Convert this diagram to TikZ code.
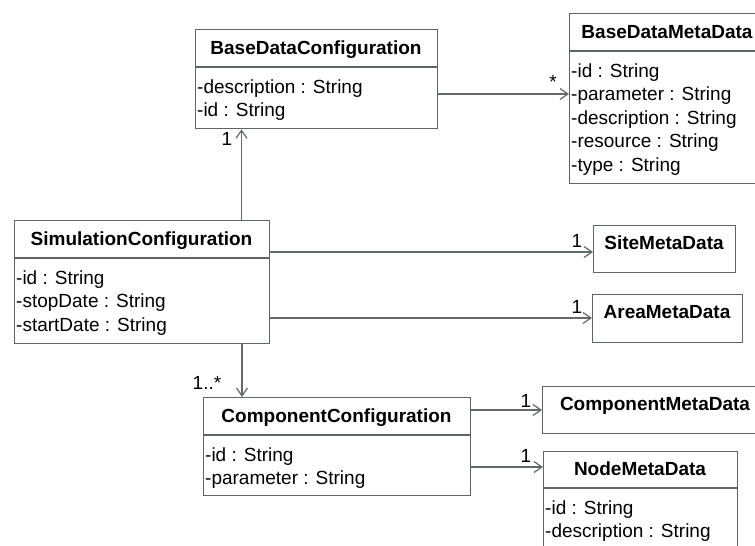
\documentclass[tikz,border=0pt]{standalone}
\usepackage{fontspec}
\setmainfont{Liberation Sans}
\usetikzlibrary{arrows.meta}

\definecolor{boxgray}{RGB}{95,100,100}
\definecolor{linegray}{RGB}{100,105,105}

\tikzset{
    every node/.style={font=\fontsize{19pt}{23.5pt}\selectfont, text=black},
    classbox/.style={draw=boxgray, line width=1.3pt, anchor=north west, inner sep=0pt},
    classname/.style={anchor=base, inner sep=0pt, font=\fontsize{19pt}{23.5pt}\selectfont\bfseries},
    attrs/.style={anchor=base west, align=left, inner sep=0pt},
    sepline/.style={draw=boxgray, line width=1.3pt},
    assoc/.style={draw=linegray, line width=1.3pt, -{Straight Barb[length=8pt,width=11pt,line width=1.2pt]}},
    mult/.style={anchor=base, inner sep=0pt}
}

\begin{document}
\begin{tikzpicture}[x=1pt, y=-1pt]
                \useasboundingbox (0,0) rectangle (755,546);
                \clip (0,0) rectangle (755,546);

                % BaseDataConfiguration
                \node [classbox, minimum width=242pt, minimum height=99pt] (bdc) at (195,29) {};
                \node [classname] (bdc-name) at (316,54) {BaseDataConfiguration};
                \draw [sepline] (bdc.west |- 0,67) -- (bdc.east |- 0,67);
                \node [attrs] (bdc-attrs) at (197,116.5) {-description : String\\-id : String};

                % BaseDataMetaData
                \node [classbox, minimum width=196pt, minimum height=170pt] (bdm) at (569,13) {};
                \node [classname] (bdm-name) at (667,38) {BaseDataMetaData};
                \draw [sepline] (bdm.west |- 0,51) -- (bdm.east |- 0,51);
                \node [attrs] (bdm-attrs) at (571,171) {-id : String\\-parameter : String\\-description : String\\-resource : String\\-type : String};

                % SimulationConfiguration
                \node [classbox, minimum width=255pt, minimum height=123pt] (sim) at (14,220) {};
                \node [classname] (sim-name) at (141.5,245) {SimulationConfiguration};
                \draw [sepline] (sim.west |- 0,258) -- (sim.east |- 0,258);
                \node [attrs] (sim-attrs) at (16,331) {-id : String\\-stopDate : String\\-startDate : String};

                % SiteMetaData
                \node [classbox, minimum width=142pt, minimum height=47pt] (site) at (593,225) {};
                \node [classname] (site-name) at (664,249) {SiteMetaData};

                % AreaMetaData
                \node [classbox, minimum width=150pt, minimum height=48pt] (area) at (592,294) {};
                \node [classname] (area-name) at (667,318) {AreaMetaData};

                % ComponentConfiguration
                \node [classbox, minimum width=267pt, minimum height=98pt] (comp) at (203,397) {};
                \node [classname] (comp-name) at (336.5,422) {ComponentConfiguration};
                \draw [sepline] (comp.west |- 0,435) -- (comp.east |- 0,435);
                \node [attrs] (comp-attrs) at (205,484.5) {-id : String\\-parameter : String};

                % ComponentMetaData
                \node [classbox, minimum width=226pt, minimum height=47pt] (cmd) at (542,386) {};
                \node [classname] (cmd-name) at (655,410) {ComponentMetaData};

                % NodeMetaData
                \node [classbox, minimum width=194pt, minimum height=110pt] (nmd) at (543,451) {};
                \node [classname] (nmd-name) at (640,475) {NodeMetaData};
                \draw [sepline] (nmd.west |- 0,488) -- (nmd.east |- 0,488);
                \node [attrs] (nmd-attrs) at (545,537.5) {-id : String\\-description : String};

                % associations
                \draw [assoc] (bdc.east |- 0,94) -- (bdm.west |- 0,94);
                \node [mult] (m-bdm) at (553,88.5) {*};
                \draw [assoc] (sim.north -| 241.5,0) -- (bdc.south -| 241.5,0);
                \node [mult] (m-bdc) at (227,145) {1};
                \draw [assoc] (sim.east |- 0,252) -- (site.west |- 0,252);
                \node [mult] (m-site) at (577,247) {1};
                \draw [assoc] (sim.east |- 0,318) -- (area.west |- 0,318);
                \node [mult] (m-area) at (577,313) {1};
                \draw [assoc] (sim.south -| 242,0) -- (comp.north -| 242,0);
                \node [mult] (m-comp) at (207,389) {1..*};
                \draw [assoc] (comp.east |- 0,410) -- (cmd.west |- 0,410);
                \node [mult] (m-cmd) at (526,407) {1};
                \draw [assoc] (comp.east |- 0,467) -- (nmd.west |- 0,467);
                \node [mult] (m-nmd) at (526,462) {1};
            \end{tikzpicture}
\end{document}
